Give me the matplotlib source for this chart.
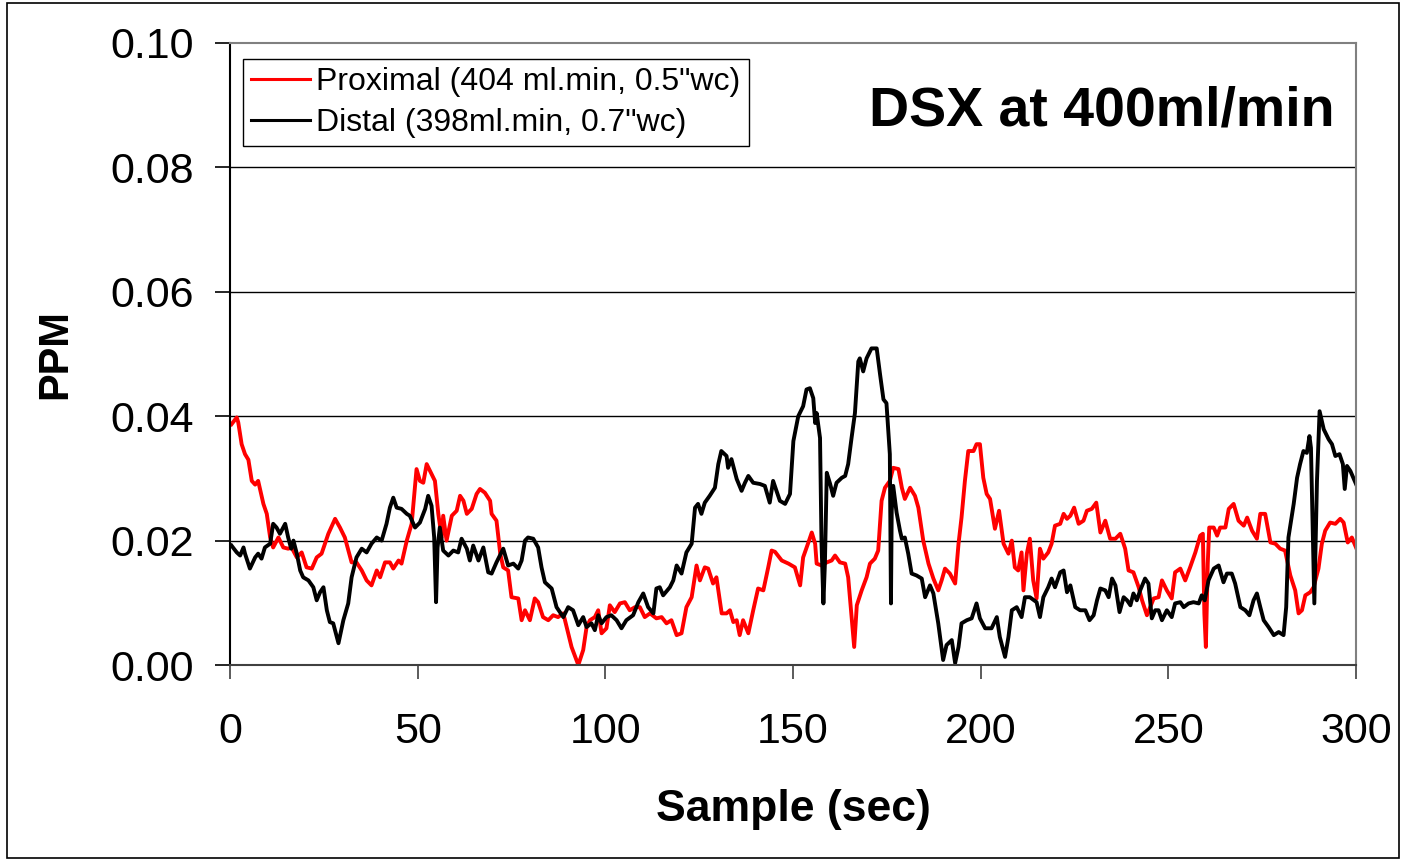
import matplotlib
matplotlib.use("Agg")
import matplotlib.pyplot as plt
from matplotlib.patches import Rectangle

plt.rcParams['font.family'] = ['Liberation Sans', 'DejaVu Sans']

# Proximal (red) readings: (sample sec, ppm)
proximal = [
    (0.4, 0.0387), (1.8, 0.0398), (2.2, 0.0390), (3.1, 0.0355), (4.0, 0.0339), (4.9, 0.0330),
    (5.8, 0.0296), (6.7, 0.0290), (7.5, 0.0296), (8.9, 0.0259), (9.8, 0.0243), (10.7, 0.0205),
    (11.5, 0.0189), (12.9, 0.0205), (14.2, 0.0189), (15.5, 0.0187), (16.4, 0.0189), (17.8, 0.0173),
    (19.1, 0.0181), (20.4, 0.0157), (21.8, 0.0155), (23.1, 0.0173), (24.4, 0.0179), (26.2, 0.0211),
    (28.0, 0.0235), (29.3, 0.0221), (30.6, 0.0205), (32.4, 0.0165), (33.7, 0.0165), (35.1, 0.0152),
    (36.4, 0.0136), (37.7, 0.0128), (39.1, 0.0152), (40.0, 0.0141), (41.3, 0.0165), (42.6, 0.0165),
    (43.5, 0.0155), (44.9, 0.0168), (45.7, 0.0163), (47.1, 0.0200), (48.4, 0.0227), (49.7, 0.0315),
    (50.6, 0.0296), (51.5, 0.0293), (52.4, 0.0323), (53.3, 0.0312), (54.6, 0.0296), (55.5, 0.0243),
    (56.4, 0.0205), (56.8, 0.0240), (57.7, 0.0200), (59.1, 0.0240), (60.4, 0.0248), (61.3, 0.0272),
    (62.2, 0.0264), (63.1, 0.0243), (64.4, 0.0251), (65.7, 0.0275), (66.6, 0.0283), (67.9, 0.0277),
    (69.3, 0.0264), (69.7, 0.0243), (71.0, 0.0232), (72.0, 0.0179),
    (72.8, 0.0157), (74.1, 0.0152), (75.0, 0.0109), (76.8, 0.0107), (77.7, 0.0072), (78.6, 0.0088),
    (79.9, 0.0072), (81.2, 0.0107), (82.1, 0.0101), (83.4, 0.0077), (84.8, 0.0072), (86.1, 0.0080),
    (87.4, 0.0077), (88.8, 0.0083), (89.7, 0.0061), (91.0, 0.0029), (92.8, 0.0000), (94.1, 0.0024),
    (95.0, 0.0061), (95.9, 0.0072), (97.2, 0.0077), (98.1, 0.0088), (99.0, 0.0051), (100.3, 0.0059),
    (101.2, 0.0096), (102.5, 0.0085), (103.9, 0.0099), (105.2, 0.0101), (106.5, 0.0088), (107.9, 0.0093),
    (109.2, 0.0093), (110.5, 0.0077), (111.9, 0.0083), (113.6, 0.0075), (115.0, 0.0077), (116.3, 0.0067),
    (117.6, 0.0072), (119.0, 0.0048), (120.3, 0.0051), (121.6, 0.0093), (123.0, 0.0109), (124.3, 0.0160),
    (125.2, 0.0136), (126.5, 0.0157), (127.4, 0.0155), (128.7, 0.0131), (129.6, 0.0141), (131.0, 0.0083),
    (132.3, 0.0083), (133.2, 0.0088), (134.1, 0.0069), (135.0, 0.0072), (135.8, 0.0048), (136.7, 0.0072),
    (138.1, 0.0051), (139.4, 0.0088), (140.7, 0.0123), (142.1, 0.0120), (143.4, 0.0157), (144.3, 0.0184),
    (145.2, 0.0182), (147.0, 0.0168), (148.8, 0.0163), (150.5, 0.0157), (151.9, 0.0128), (152.7, 0.0173),
    (154.1, 0.0197), (155.0, 0.0213), (155.9, 0.0195), (156.3, 0.0163), (157.6, 0.0160), (159.0, 0.0165),
    (160.3, 0.0168), (161.2, 0.0176), (162.5, 0.0165), (163.9, 0.0163), (164.7, 0.0141), (165.6, 0.0077),
    (166.3, 0.0029), (167.0, 0.0096), (168.3, 0.0120), (169.6, 0.0141), (170.5, 0.0163), (171.8, 0.0171),
    (172.7, 0.0184), (173.6, 0.0264), (174.5, 0.0285), (175.8, 0.0296), (176.7, 0.0317), (178.1, 0.0315),
    (179.0, 0.0285), (179.8, 0.0267), (181.2, 0.0285), (182.5, 0.0272), (183.4, 0.0253), (184.7, 0.0200),
    (186.1, 0.0163), (187.4, 0.0139), (188.7, 0.0120), (189.6, 0.0136), (190.5, 0.0155), (191.8, 0.0147),
    (193.2, 0.0131), (194.1, 0.0195), (194.9, 0.0237), (195.8, 0.0296), (196.7, 0.0344), (198.1, 0.0344),
    (198.9, 0.0355), (199.8, 0.0355), (200.7, 0.0301), (201.6, 0.0275), (202.5, 0.0267), (203.8, 0.0219),
    (204.9, 0.0248), (206.1, 0.0195), (207.4, 0.0179), (208.3, 0.0200), (209.1, 0.0157), (210.0, 0.0152),
    (210.9, 0.0181), (211.4, 0.0120), (212.3, 0.0179), (213.1, 0.0203), (214.0, 0.0136), (214.9, 0.0107),
    (215.8, 0.0187), (216.7, 0.0171), (218.0, 0.0181), (218.9, 0.0195), (219.8, 0.0224),
    (221.2, 0.0227), (222.1, 0.0243), (223.0, 0.0235), (223.9, 0.0240), (224.9, 0.0253), (226.1, 0.0227),
    (227.4, 0.0232), (228.3, 0.0248), (229.6, 0.0251), (230.8, 0.0261), (231.9, 0.0213), (233.2, 0.0232),
    (234.5, 0.0203), (235.9, 0.0203), (237.2, 0.0211), (238.5, 0.0187), (239.4, 0.0152), (240.7, 0.0149),
    (242.1, 0.0125), (243.0, 0.0104), (244.3, 0.0080), (246.1, 0.0107), (247.4, 0.0109), (248.3, 0.0136),
    (249.6, 0.0120), (250.9, 0.0107), (251.8, 0.0149), (253.2, 0.0155), (254.5, 0.0136), (255.8, 0.0157),
    (257.2, 0.0181), (258.5, 0.0208), (259.2, 0.0211), (259.6, 0.0083), (260.0, 0.0029), (260.5, 0.0163),
    (260.9, 0.0221), (262.1, 0.0221), (263.0, 0.0208), (263.8, 0.0221), (265.2, 0.0221), (266.1, 0.0251),
    (267.4, 0.0259), (268.7, 0.0232), (270.1, 0.0224), (271.0, 0.0237), (272.3, 0.0216), (273.6, 0.0203),
    (274.5, 0.0243), (275.8, 0.0243), (277.2, 0.0197), (278.5, 0.0195), (279.8, 0.0187), (281.1, 0.0184),
    (282.5, 0.0144), (283.8, 0.0120), (284.7, 0.0083), (285.6, 0.0088), (286.5, 0.0112), (287.8, 0.0117),
    (288.7, 0.0125), (290.0, 0.0155), (290.9, 0.0195), (291.8, 0.0216), (293.1, 0.0229), (294.5, 0.0227),
    (295.8, 0.0235), (296.7, 0.0229), (297.8, 0.0197), (298.9, 0.0205), (300.0, 0.0189),
]

# Distal (black) readings: (sample sec, ppm)
distal = [
    (0.4, 0.0192), (1.8, 0.0181), (2.7, 0.0176), (3.6, 0.0189), (4.0, 0.0179), (5.3, 0.0155),
    (6.7, 0.0173), (7.5, 0.0179), (8.4, 0.0171), (9.3, 0.0189), (10.7, 0.0195), (11.5, 0.0227),
    (12.4, 0.0221), (13.3, 0.0211), (14.7, 0.0227), (15.5, 0.0205), (16.3, 0.0187), (16.9, 0.0200),
    (17.8, 0.0179), (18.7, 0.0152), (19.5, 0.0141), (20.9, 0.0136), (22.2, 0.0125), (23.1, 0.0104),
    (24.0, 0.0117), (24.9, 0.0125), (25.8, 0.0088), (26.6, 0.0069), (27.5, 0.0067), (28.9, 0.0035),
    (30.2, 0.0072), (31.5, 0.0099), (32.4, 0.0141), (33.7, 0.0173), (35.1, 0.0187), (36.4, 0.0181),
    (37.7, 0.0195), (39.1, 0.0205), (40.4, 0.0200), (41.7, 0.0227), (42.6, 0.0253), (43.5, 0.0269),
    (44.4, 0.0253), (45.7, 0.0251), (47.1, 0.0243), (47.9, 0.0240), (49.3, 0.0221), (50.6, 0.0229),
    (52.0, 0.0251), (52.8, 0.0272), (53.7, 0.0256), (54.4, 0.0205), (54.9, 0.0101), (55.3, 0.0189),
    (55.9, 0.0221), (56.8, 0.0184), (58.2, 0.0176), (59.5, 0.0184), (60.8, 0.0181), (61.7, 0.0203),
    (63.1, 0.0187), (63.9, 0.0168), (64.8, 0.0192), (66.2, 0.0168), (67.5, 0.0189), (68.8, 0.0149),
    (69.7, 0.0147), (71.0, 0.0165),
    (72.8, 0.0187), (74.1, 0.0160), (75.5, 0.0163), (76.8, 0.0155), (77.7, 0.0168), (78.6, 0.0200),
    (79.4, 0.0205), (80.8, 0.0203), (82.1, 0.0189), (83.0, 0.0157), (83.9, 0.0133), (85.7, 0.0123),
    (87.0, 0.0093), (88.8, 0.0077), (90.1, 0.0093), (91.4, 0.0088), (92.8, 0.0064), (94.1, 0.0077),
    (95.0, 0.0061), (96.3, 0.0067), (97.2, 0.0056), (98.1, 0.0080), (99.0, 0.0067), (100.3, 0.0077),
    (101.6, 0.0080), (103.0, 0.0072), (104.3, 0.0059), (105.6, 0.0072), (107.4, 0.0080), (108.8, 0.0101),
    (110.1, 0.0115), (111.4, 0.0093), (112.8, 0.0083), (113.6, 0.0123), (114.5, 0.0125), (115.4, 0.0112),
    (117.2, 0.0125), (118.1, 0.0136), (119.0, 0.0160), (120.3, 0.0147), (121.6, 0.0181), (123.0, 0.0195),
    (123.9, 0.0253), (124.7, 0.0259), (125.6, 0.0243), (126.5, 0.0261), (127.8, 0.0272), (129.2, 0.0285),
    (130.1, 0.0323), (130.9, 0.0344), (132.3, 0.0336), (132.7, 0.0317), (133.6, 0.0331), (135.0, 0.0299),
    (136.3, 0.0280), (137.2, 0.0293), (138.1, 0.0304), (139.4, 0.0293), (141.2, 0.0291), (142.5, 0.0288),
    (143.8, 0.0261), (144.7, 0.0296),
    (146.5, 0.0264), (147.9, 0.0259), (149.2, 0.0275), (150.1, 0.0360), (151.4, 0.0400), (152.7, 0.0416),
    (153.6, 0.0443), (154.5, 0.0445), (155.4, 0.0429), (155.9, 0.0389), (156.3, 0.0405), (157.2, 0.0365),
    (157.6, 0.0195), (158.1, 0.0099), (158.5, 0.0163), (159.0, 0.0309), (159.9, 0.0291), (160.7, 0.0272),
    (161.6, 0.0293), (163.0, 0.0301), (163.9, 0.0304), (164.7, 0.0323), (165.6, 0.0365), (166.5, 0.0405),
    (167.4, 0.0488), (167.8, 0.0493), (168.7, 0.0472), (169.6, 0.0493), (170.9, 0.0509), (172.3, 0.0509),
    (173.2, 0.0467), (174.1, 0.0427), (174.9, 0.0421), (175.8, 0.0339), (176.1, 0.0099), (176.3, 0.0248),
    (176.7, 0.0288), (177.6, 0.0245), (178.5, 0.0216), (179.0, 0.0203), (179.8, 0.0205), (180.7, 0.0179),
    (181.6, 0.0147), (182.9, 0.0144), (184.3, 0.0139), (185.2, 0.0109), (186.5, 0.0128), (187.4, 0.0115),
    (188.7, 0.0067), (190.0, 0.0008), (190.9, 0.0032), (192.3, 0.0040), (193.2, 0.0003), (194.1, 0.0029),
    (194.9, 0.0067), (196.3, 0.0072), (197.6, 0.0075), (198.9, 0.0099), (199.8, 0.0075), (201.2, 0.0059),
    (202.9, 0.0059), (204.3, 0.0077), (205.1, 0.0045), (206.5, 0.0013), (207.4, 0.0045), (208.3, 0.0088),
    (209.6, 0.0093), (210.9, 0.0077), (211.8, 0.0109), (213.1, 0.0109), (214.9, 0.0101), (215.8, 0.0077),
    (216.7, 0.0109), (218.0, 0.0125), (218.9, 0.0139), (219.8, 0.0125),
    (221.2, 0.0149), (222.1, 0.0152), (223.0, 0.0117), (223.9, 0.0128), (225.2, 0.0093), (226.5, 0.0088),
    (227.9, 0.0088), (229.0, 0.0072), (230.1, 0.0080), (231.0, 0.0104), (231.9, 0.0123), (233.2, 0.0120),
    (234.1, 0.0109), (235.0, 0.0139), (235.9, 0.0128), (237.0, 0.0085), (238.1, 0.0109), (239.0, 0.0104),
    (239.9, 0.0096), (240.7, 0.0115), (241.6, 0.0104), (242.5, 0.0120), (243.8, 0.0139), (244.7, 0.0131),
    (245.6, 0.0075), (246.5, 0.0088), (247.4, 0.0088), (248.3, 0.0072), (249.6, 0.0088), (250.9, 0.0077),
    (251.8, 0.0099), (253.2, 0.0101), (254.1, 0.0093), (255.4, 0.0099), (256.7, 0.0101), (258.1, 0.0099),
    (258.9, 0.0112), (259.7, 0.0104), (260.7, 0.0136), (262.1, 0.0155), (263.4, 0.0160), (264.7, 0.0133),
    (265.6, 0.0147), (266.9, 0.0147), (267.8, 0.0131), (269.2, 0.0093), (270.5, 0.0088), (271.6, 0.0080),
    (272.7, 0.0104), (273.6, 0.0115), (274.5, 0.0093), (275.4, 0.0072), (276.7, 0.0061), (278.1, 0.0048),
    (279.4, 0.0053), (280.7, 0.0048), (281.4, 0.0093), (282.0, 0.0205), (283.4, 0.0259), (284.3, 0.0301),
    (285.1, 0.0323), (286.0, 0.0344), (286.9, 0.0341), (287.6, 0.0368), (288.0, 0.0349), (288.9, 0.0099),
    (289.6, 0.0296), (290.3, 0.0408), (291.4, 0.0379), (292.7, 0.0363), (293.6, 0.0355), (294.5, 0.0336),
    (295.6, 0.0339), (296.5, 0.0323), (297.0, 0.0283), (297.6, 0.0320), (298.5, 0.0312), (300.0, 0.0291),
]

prox_sec, prox_ppm = zip(*proximal)
dist_sec, dist_ppm = zip(*distal)

prox_label = 'Proximal (404 ml.min, 0.5"wc)'
dist_label = 'Distal (398ml.min, 0.7"wc)'
x_ticks = [0, 50, 100, 150, 200, 250, 300]
y_ticks = [0.00, 0.02, 0.04, 0.06, 0.08, 0.10]

fig = plt.figure(figsize=(14.06, 8.63), dpi=100)
ax = fig.add_axes([230/1406, 198/863, 1126/1406, 622/863])

ax.plot(prox_sec, prox_ppm, color='#ff0000', lw=2.8, label=prox_label)
ax.plot(dist_sec, dist_ppm, color='black', lw=2.8, label=dist_label)

ax.set_xlim(0, 300)
ax.set_ylim(0, 0.10)
ax.set_xticks(x_ticks)
ax.set_yticks(y_ticks)
ax.set_yticklabels([f'{v:.2f}' for v in y_ticks])
ax.tick_params(axis='both', labelsize=31, direction='out', width=1.2)
ax.tick_params(axis='y', length=11, pad=15)
ax.tick_params(axis='x', length=10, pad=24, color='#404040')

for v in y_ticks[1:-1]:
    ax.axhline(v, color='black', lw=1.0, zorder=0)

ax.spines['left'].set_color('black')
ax.spines['left'].set_linewidth(1.5)
ax.spines['bottom'].set_color('#404040')
ax.spines['bottom'].set_linewidth(1.5)
ax.spines['top'].set_color('#808080')
ax.spines['right'].set_color('#808080')
ax.spines['top'].set_linewidth(1.5)
ax.spines['right'].set_linewidth(1.5)

ax.set_xlabel('Sample (sec)', fontsize=32, fontweight='bold', va='top')
ax.xaxis.set_label_coords(0.5, -0.2)
ax.set_ylabel('PPM', fontsize=30, fontweight='bold', va='center')
ax.yaxis.set_label_coords(-0.155, 0.5)

leg = ax.legend(loc='upper left', bbox_to_anchor=(0.0115, 0.974), fontsize=23,
                frameon=True, fancybox=False, edgecolor='black', framealpha=1,
                handlelength=1.85, handletextpad=0.2, borderpad=0.25, labelspacing=0.35,
                borderaxespad=0)
leg.get_frame().set_linewidth(1.0)
for h in leg.get_lines():
    h.set_linewidth(2.2)

ax.text(0.981, 0.89, 'DSX at 400ml/min', transform=ax.transAxes, ha='right', va='center',
        fontsize=40, fontweight='bold')

# outer chart border
fig.patches.append(Rectangle((7/1406, 5/863), 1392/1406, 855/863, transform=fig.transFigure,
                             fill=False, edgecolor='black', lw=1.2))

fig.savefig('out.png', dpi=100)
